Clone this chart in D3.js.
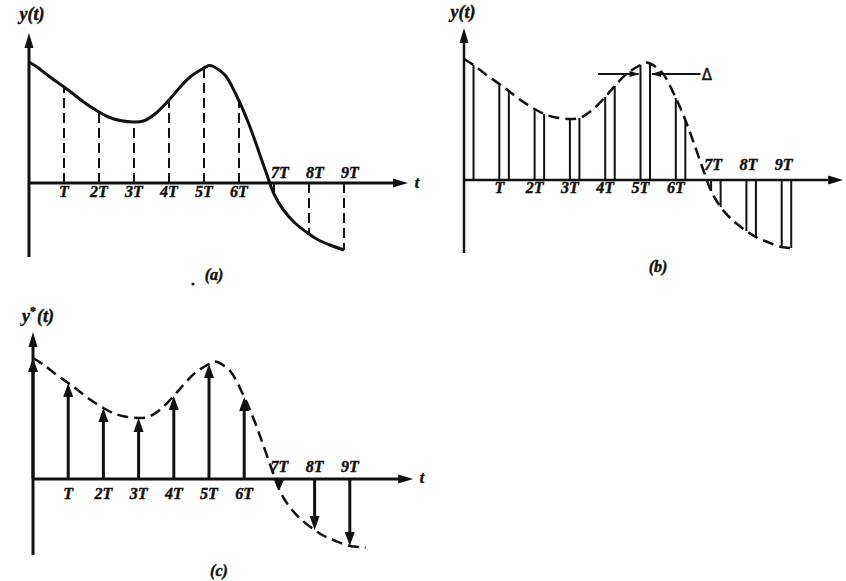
<!DOCTYPE html>
<html>
<head>
<meta charset="utf-8">
<script src="https://cdn.jsdelivr.net/npm/d3@7"></script>
<style>
  body { margin: 0; background: #fff; }
  text { font-family: "Liberation Serif", "Times New Roman", serif; font-weight: bold; font-style: italic; fill: #111; stroke: #111; stroke-width: 0.45px; }
</style>
</head>
<body>
<div id="chart"></div>
<script>
// Values (t in units of T, y in arbitrary units)
var tickNames = ["T", "2T", "3T", "4T", "5T", "6T", "7T", "8T", "9T"];
var sampleY = [121, 96, 71, 61, 83, 115, 82, -11, -51, -67];       // y(kT)
var pulseWidth = 0.27;                                              // Delta, in T
var pulseEndY = [115, 89, 66, 62, 94, 116.5, 60, -27, -57, -68];    // y(kT + Delta)
var extraT = [0.6, 1.6, 2.6, 3.6, 4.6, 5.15, 5.6, 6.5, 6.8, 7.6, 8.6, 9.45];
var extraY = [106, 80, 62.5, 69, 106, 117.5, 108, 38, 8, -40, -62, -68.5];

// all knots of the continuous curve, sorted by t
var knots = [];
sampleY.forEach((v, k) => knots.push({t: k, y: v}));
pulseEndY.forEach((v, k) => knots.push({t: k + pulseWidth, y: v}));
extraT.forEach((t, i) => knots.push({t: t, y: extraY[i]}));
knots.sort((a, b) => a.t - b.t);

var svgWidth = 846;
var svgHeight = 581;

var svg = d3.select("#chart")
    .append("svg")
    .attr("width", svgWidth)
    .attr("height", svgHeight);

// panel layout
var panels = [
    {id: "a", x0: 29, y0: 183, T: 35, yTop: 150, yBot: -74, xEnd: 10.83, title: "y(t)", titleX: 32, titleY: 20,
     cap: "(a)", capX: 214, capY: 280, below: 14, above: 5, aboveDx: 6, tLabel: [417, 188]},
    {id: "b", x0: 464, y0: 180, T: 35.3, yTop: 152, yBot: -73, xEnd: 10.74, title: "y(t)", titleX: 463, titleY: 18,
     cap: "(b)", capX: 658, capY: 272, below: 13, above: 10, aboveDx: 2, tLabel: null},
    {id: "c", x0: 33, y0: 479, T: 35.2, yTop: 147, yBot: -76, xEnd: 10.8, title: "y*(t)", titleX: 38, titleY: 322,
     cap: "(c)", capX: 219, capY: 576, below: 20, above: 7, aboveDx: 0, tLabel: [422, 483]}
];

function arrowHead(g, x, y, dir, len, wid) {
    // dir: "up", "down", "left", "right"; (x, y) is the tip
    var pts;
    if (dir === "up") pts = [[x, y], [x - wid / 2, y + len], [x + wid / 2, y + len]];
    else if (dir === "down") pts = [[x, y], [x - wid / 2, y - len], [x + wid / 2, y - len]];
    else if (dir === "right") pts = [[x, y], [x - len, y - wid / 2], [x - len, y + wid / 2]];
    else pts = [[x, y], [x + len, y - wid / 2], [x + len, y + wid / 2]];
    g.append("path")
        .attr("d", "M" + pts.join("L") + "Z")
        .attr("fill", "#111");
}

panels.forEach(p => {
    var xScale = d3.scaleLinear().domain([0, 1]).range([p.x0, p.x0 + p.T]);
    var yScale = d3.scaleLinear().domain([0, 1]).range([p.y0, p.y0 - 1]);
    var g = svg.append("g").attr("class", "panel-" + p.id);

    var axisW = p.id === "b" ? 2.5 : 3;

    // axes
    g.append("line")
        .attr("x1", xScale(0)).attr("x2", xScale(0))
        .attr("y1", yScale(p.yBot)).attr("y2", yScale(p.yTop) + 10)
        .attr("stroke", "#111").attr("stroke-width", axisW);
    arrowHead(g, xScale(0), yScale(p.yTop), "up", 15, 9);
    g.append("line")
        .attr("x1", xScale(0)).attr("x2", xScale(p.xEnd) - 10)
        .attr("y1", yScale(0)).attr("y2", yScale(0))
        .attr("stroke", "#111").attr("stroke-width", axisW);
    arrowHead(g, xScale(p.xEnd), yScale(0), "right", 15, 9);

    var line = d3.line()
        .x(d => xScale(d.t))
        .y(d => yScale(d.y))
        .curve(d3.curveCatmullRom.alpha(0.5));

    if (p.id === "a") {
        g.append("path")
            .datum(knots.filter(d => d.t <= 9))
            .attr("d", line)
            .attr("fill", "none")
            .attr("stroke", "#111")
            .attr("stroke-width", 3);
        g.selectAll("line.samp")
            .data(sampleY.slice(1))
            .enter()
            .append("line")
            .attr("class", "samp")
            .attr("x1", (d, i) => xScale(i + 1))
            .attr("x2", (d, i) => xScale(i + 1))
            .attr("y1", yScale(0))
            .attr("y2", d => yScale(d))
            .attr("stroke", "#111")
            .attr("stroke-width", 2)
            .attr("stroke-dasharray", "10,5");
    } else {
        var tMax = p.id === "b" ? 9 + pulseWidth : 9.45;
        g.append("path")
            .datum(knots.filter(d => d.t <= tMax + 0.001))
            .attr("d", line)
            .attr("fill", "none")
            .attr("stroke", "#111")
            .attr("stroke-width", 2.5)
            .attr("stroke-dasharray", "11,6");
    }

    if (p.id === "b") {
        // pulse edges at kT and kT + Delta
        g.selectAll("line.lead")
            .data(sampleY.slice(1))
            .enter()
            .append("line")
            .attr("x1", (d, i) => xScale(i + 1))
            .attr("x2", (d, i) => xScale(i + 1))
            .attr("y1", yScale(0))
            .attr("y2", d => yScale(d))
            .attr("stroke", "#111")
            .attr("stroke-width", 2);
        g.selectAll("line.trail")
            .data(pulseEndY)
            .enter()
            .append("line")
            .attr("x1", (d, i) => xScale(i + pulseWidth))
            .attr("x2", (d, i) => xScale(i + pulseWidth))
            .attr("y1", yScale(0))
            .attr("y2", d => yScale(d))
            .attr("stroke", "#111")
            .attr("stroke-width", 2);

        // Delta annotation around the 5T pulse
        var yD = yScale(106);
        g.append("line")
            .attr("x1", xScale(3.8)).attr("x2", xScale(5) - 2)
            .attr("y1", yD).attr("y2", yD)
            .attr("stroke", "#111").attr("stroke-width", 1.8);
        arrowHead(g, xScale(5) - 1, yD, "right", 10, 6);
        g.append("line")
            .attr("x1", xScale(5 + pulseWidth) + 2).attr("x2", xScale(6.7))
            .attr("y1", yD).attr("y2", yD)
            .attr("stroke", "#111").attr("stroke-width", 1.8);
        arrowHead(g, xScale(5 + pulseWidth) + 1, yD, "left", 10, 6);
        g.append("text")
            .attr("x", xScale(6.88))
            .attr("y", yScale(100))
            .attr("text-anchor", "middle")
            .style("font-style", "normal")
            .style("font-family", "DejaVu Sans, sans-serif")
            .style("font-weight", "normal")
            .attr("font-size", "15px")
            .text("\u0394");
    }

    if (p.id === "c") {
        // impulses with arrow heads
        sampleY.forEach((v, k) => {
            var dir = v >= 0 ? "up" : "down";
            var tipY = yScale(v);
            var headLen = Math.min(14, Math.abs(yScale(v) - yScale(0)));
            g.append("line")
                .attr("x1", xScale(k)).attr("x2", xScale(k))
                .attr("y1", yScale(0))
                .attr("y2", dir === "up" ? tipY + headLen - 2 : tipY - headLen + 2)
                .attr("stroke", "#111").attr("stroke-width", 3);
            arrowHead(g, xScale(k), tipY, dir, headLen, 10);
        });
    }

    // tick labels: below the axis where the sample is positive, above where negative
    g.selectAll("text.tick")
        .data(tickNames)
        .enter()
        .append("text")
        .attr("class", "tick")
        .attr("x", (d, i) => xScale(i + 1) + (sampleY[i + 1] < 0 ? p.aboveDx : 0))
        .attr("y", (d, i) => sampleY[i + 1] < 0 ? yScale(0) - p.above : yScale(0) + p.below)
        .attr("text-anchor", "middle")
        .attr("font-size", "16px")
        .text(d => d);

    // y label
    var title = g.append("text")
        .attr("x", p.titleX)
        .attr("y", p.titleY)
        .attr("text-anchor", "middle")
        .attr("font-size", "18px");
    if (p.title === "y*(t)") {
        title.append("tspan").text("y");
        title.append("tspan").attr("dy", -7).attr("font-size", "12px").style("font-style", "normal").text("*");
        title.append("tspan").attr("dy", 7).attr("dx", 1).text("(t)");
    } else {
        title.text(p.title);
    }

    // t label at the end of the time axis
    if (p.tLabel) {
        g.append("text")
            .attr("x", p.tLabel[0])
            .attr("y", p.tLabel[1])
            .attr("text-anchor", "middle")
            .attr("font-size", "16px")
            .text("t");
    }

    // caption
    g.append("text")
        .attr("x", p.capX)
        .attr("y", p.capY)
        .attr("text-anchor", "middle")
        .attr("font-size", "16px")
        .text(p.cap);
});

// stray dot from the scan next to (a)
svg.append("circle").attr("cx", 193).attr("cy", 284).attr("r", 1.6).attr("fill", "#111");
</script>
</body>
</html>
